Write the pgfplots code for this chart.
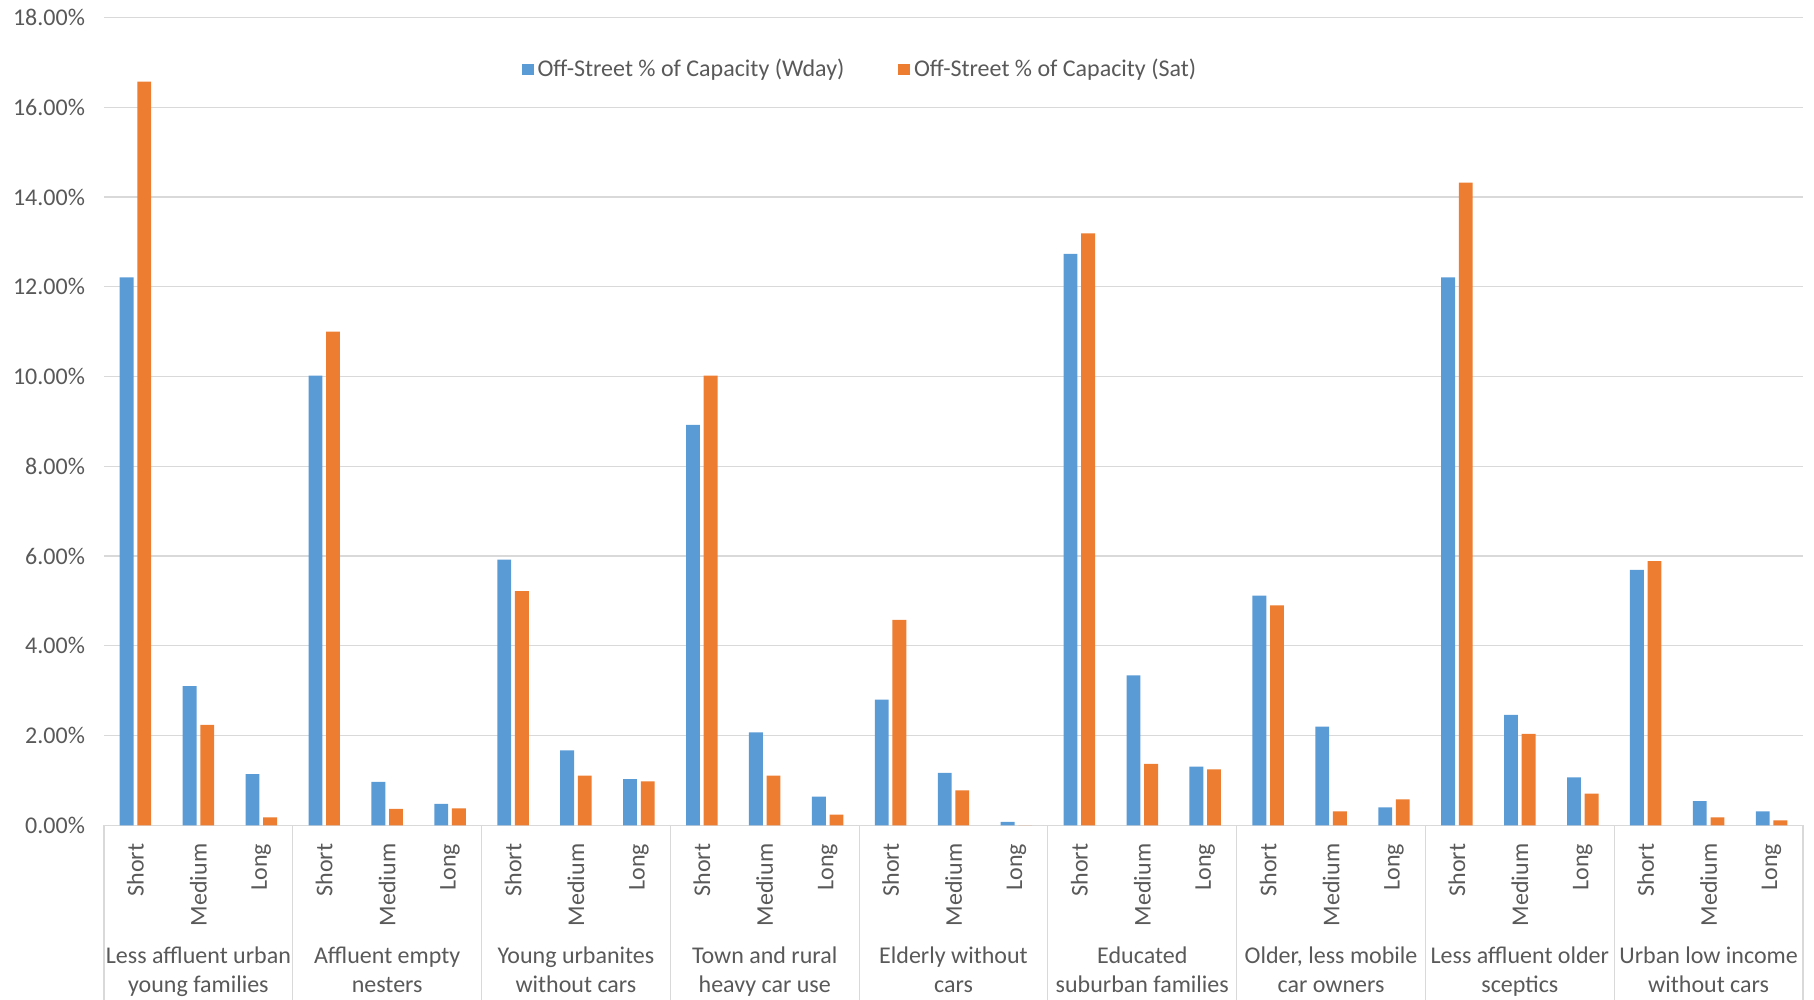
\documentclass[border=0pt]{standalone}
\usepackage{pgfplots}
\pgfplotsset{compat=1.18}
\usepackage{fontspec}
\setmainfont{Carlito}
\definecolor{wday}{HTML}{5B9BD5}
\definecolor{sat}{HTML}{ED7D31}
\definecolor{gridc}{HTML}{D9D9D9}
\definecolor{txt}{HTML}{595959}
\begin{document}
\begin{tikzpicture}[font=\fontsize{12}{14.5}\selectfont, text=txt]
\path[use as bounding box] (-52pt,-87.25pt) rectangle (855pt,412.7pt);
\begin{axis}[
  at={(0pt,0pt)}, anchor=south west,
  scale only axis, width=849.5pt, height=404pt,
  xmin=-0.5, xmax=26.5, ymin=0, ymax=18,
  axis x line*=bottom, axis y line*=left,
  y axis line style={draw=none},
  x axis line style={gridc, line width=0.6pt},
  ymajorgrids, grid style={gridc, line width=0.6pt},
  ytick={0,2,...,18},
  major tick length=0pt,
  /pgf/number format/assume math mode=true,
  yticklabel={\pgfmathprintnumber[fixed,fixed zerofill,precision=2]{\tick}\%},
  yticklabel style={font=\fontsize{12}{14.5}\selectfont, text=txt, xshift=-6pt},
  xtick={0,...,26},
  xticklabels={Short,Medium,Long,Short,Medium,Long,Short,Medium,Long,Short,Medium,Long,Short,Medium,Long,Short,Medium,Long,Short,Medium,Long,Short,Medium,Long,Short,Medium,Long},
  xticklabel style={rotate=90, anchor=east, inner xsep=9pt, font=\fontsize{12}{14.5}\selectfont, text=txt},
  ybar, bar width=0.22,
  clip=false,
  legend style={at={(0.4456,0.9356)}, anchor=center, draw=none, fill=none,
    font=\fontsize{12}{14.5}\selectfont, text=txt,
    /tikz/every even column/.append style={column sep=25pt}},
  legend columns=2,
]
\addplot[fill=wday, draw=none, bar shift=-0.14,
  legend image code/.code={\fill[wday] (0pt,-2.9pt) rectangle (5.8pt,2.9pt);}]
  coordinates {
  (0,12.21) (1,3.10) (2,1.14)
  (3,10.02) (4,0.97) (5,0.48)
  (6,5.92) (7,1.67) (8,1.03)
  (9,8.92) (10,2.07) (11,0.64)
  (12,2.80) (13,1.17) (14,0.08)
  (15,12.73) (16,3.34) (17,1.31)
  (18,5.12) (19,2.20) (20,0.40)
  (21,12.21) (22,2.46) (23,1.07)
  (24,5.69) (25,0.54) (26,0.31)
  };
\addplot[fill=sat, draw=none, bar shift=0.14,
  legend image code/.code={\fill[sat] (0pt,-2.9pt) rectangle (5.8pt,2.9pt);}]
  coordinates {
  (0,16.57) (1,2.24) (2,0.18)
  (3,11.00) (4,0.37) (5,0.38)
  (6,5.22) (7,1.11) (8,0.98)
  (9,10.02) (10,1.11) (11,0.24)
  (12,4.58) (13,0.78) (14,0.00)
  (15,13.19) (16,1.37) (17,1.25)
  (18,4.90) (19,0.31) (20,0.58)
  (21,14.32) (22,2.04) (23,0.71)
  (24,5.89) (25,0.18) (26,0.11)
  };
\legend{Off-Street \% of Capacity (Wday), Off-Street \% of Capacity (Sat)}
\pgfplotsinvokeforeach{-0.5,2.5,5.5,8.5,11.5,14.5,17.5,20.5,23.5,26.5}{
  \draw[gridc, line width=0.6pt] (axis cs:#1,0) -- ++(0pt,-95pt);
}
\node[anchor=base, yshift=-69.25pt] at (axis cs:1,0) {Less affluent urban};
\node[anchor=base, yshift=-83.75pt] at (axis cs:1,0) {young families};
\node[anchor=base, yshift=-69.25pt] at (axis cs:4,0) {Affluent empty};
\node[anchor=base, yshift=-83.75pt] at (axis cs:4,0) {nesters};
\node[anchor=base, yshift=-69.25pt] at (axis cs:7,0) {Young urbanites};
\node[anchor=base, yshift=-83.75pt] at (axis cs:7,0) {without cars};
\node[anchor=base, yshift=-69.25pt] at (axis cs:10,0) {Town and rural};
\node[anchor=base, yshift=-83.75pt] at (axis cs:10,0) {heavy car use};
\node[anchor=base, yshift=-69.25pt] at (axis cs:13,0) {Elderly without};
\node[anchor=base, yshift=-83.75pt] at (axis cs:13,0) {cars};
\node[anchor=base, yshift=-69.25pt] at (axis cs:16,0) {Educated};
\node[anchor=base, yshift=-83.75pt] at (axis cs:16,0) {suburban families};
\node[anchor=base, yshift=-69.25pt] at (axis cs:19,0) {Older, less mobile};
\node[anchor=base, yshift=-83.75pt] at (axis cs:19,0) {car owners};
\node[anchor=base, yshift=-69.25pt] at (axis cs:22,0) {Less affluent older};
\node[anchor=base, yshift=-83.75pt] at (axis cs:22,0) {sceptics};
\node[anchor=base, yshift=-69.25pt] at (axis cs:25,0) {Urban low income};
\node[anchor=base, yshift=-83.75pt] at (axis cs:25,0) {without cars};
\end{axis}
\end{tikzpicture}
\end{document}
